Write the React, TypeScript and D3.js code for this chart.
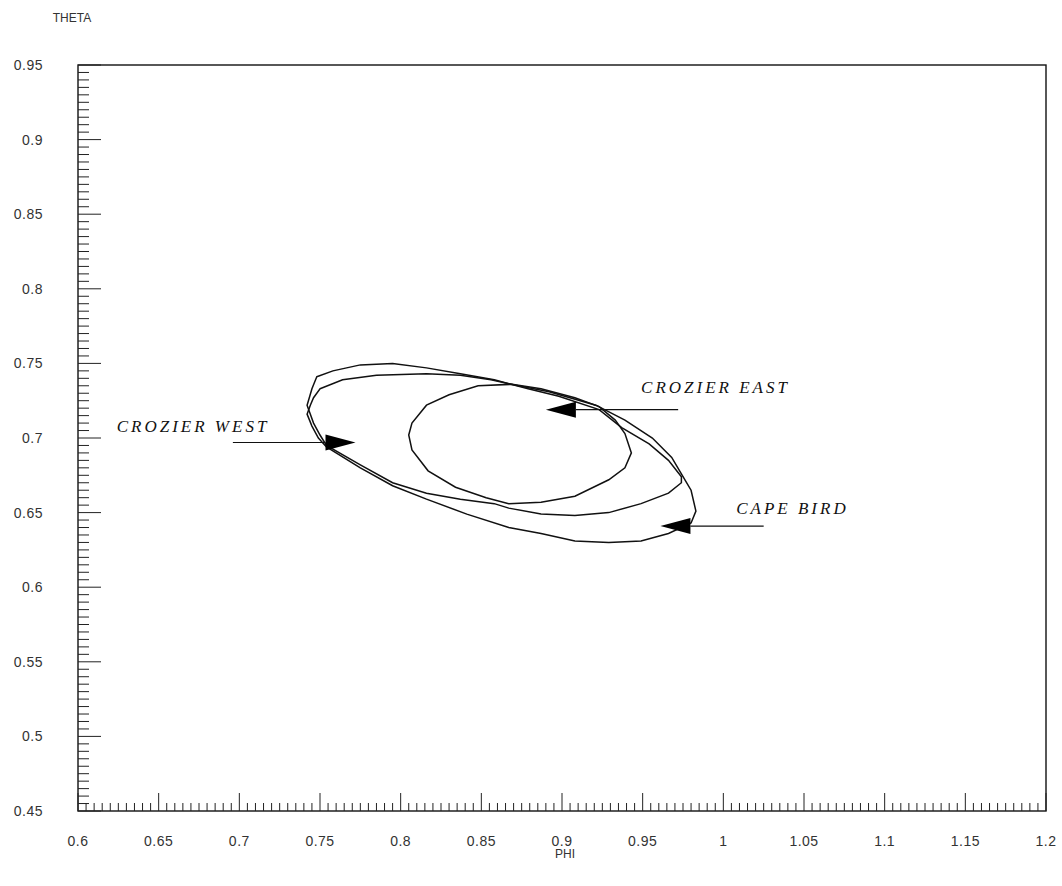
import React from "react";
import * as d3 from "d3";

// axis ticks
const phiTicks = [0.6, 0.65, 0.7, 0.75, 0.8, 0.85, 0.9, 0.95, 1, 1.05, 1.1, 1.15, 1.2];
const thetaTicks = [0.45, 0.5, 0.55, 0.6, 0.65, 0.7, 0.75, 0.8, 0.85, 0.9, 0.95];

// confidence contours, [phi, theta]
const crozierWest: [number, number][] = [
  [0.748, 0.741], [0.758, 0.745], [0.775, 0.749], [0.795, 0.75], [0.816, 0.747],
  [0.837, 0.743], [0.858, 0.739], [0.879, 0.733], [0.898, 0.728], [0.923, 0.719],
  [0.937, 0.707], [0.954, 0.696], [0.966, 0.685], [0.974, 0.674], [0.974, 0.67],
  [0.966, 0.663], [0.949, 0.656], [0.929, 0.65], [0.908, 0.648], [0.887, 0.649],
  [0.867, 0.653], [0.858, 0.656], [0.837, 0.659], [0.816, 0.663], [0.795, 0.67],
  [0.775, 0.682], [0.754, 0.695], [0.75, 0.702], [0.746, 0.71], [0.743, 0.719],
  [0.742, 0.722], [0.745, 0.733],
];

const crozierEast: [number, number][] = [
  [0.805, 0.702], [0.807, 0.71], [0.816, 0.722], [0.83, 0.729], [0.848, 0.735],
  [0.869, 0.736], [0.887, 0.733], [0.908, 0.727], [0.923, 0.721], [0.933, 0.712],
  [0.939, 0.703], [0.943, 0.69], [0.939, 0.68], [0.929, 0.672], [0.908, 0.661],
  [0.887, 0.657], [0.867, 0.656], [0.853, 0.66], [0.834, 0.667], [0.817, 0.678],
  [0.807, 0.692],
];

const capeBird: [number, number][] = [
  [0.75, 0.733], [0.764, 0.739], [0.785, 0.742], [0.816, 0.743], [0.837, 0.742],
  [0.856, 0.739], [0.873, 0.735], [0.892, 0.731], [0.921, 0.722], [0.939, 0.712],
  [0.956, 0.7], [0.968, 0.687], [0.974, 0.676], [0.98, 0.665], [0.983, 0.651],
  [0.98, 0.643], [0.966, 0.636], [0.949, 0.631], [0.929, 0.63], [0.908, 0.631],
  [0.887, 0.636], [0.867, 0.64], [0.841, 0.649], [0.816, 0.659], [0.795, 0.668],
  [0.775, 0.68], [0.754, 0.694], [0.749, 0.7], [0.745, 0.708], [0.742, 0.716],
  [0.744, 0.722], [0.746, 0.727],
];

// labels: text anchor [phi, theta], arrow tip [phi, theta], arrow tail phi
const labelNames = ["CROZIER WEST", "CROZIER EAST", "CAPE BIRD"];
const labelPos: [number, number][] = [[0.624, 0.704], [0.949, 0.73], [1.008, 0.649]];
const arrowTips: [number, number][] = [[0.772, 0.697], [0.89, 0.719], [0.961, 0.641]];
const arrowTails = [0.696, 0.972, 1.025];

const W = 1062;
const H = 886;

export default function App() {
  const x = d3.scaleLinear().domain([0.6, 1.2]).range([78, 1046]);
  const y = d3.scaleLinear().domain([0.45, 0.95]).range([811, 65]);

  const line = d3
    .line<[number, number]>()
    .x((d) => x(d[0]))
    .y((d) => y(d[1]))
    .curve(d3.curveLinearClosed);

  const xMinor = d3.range(0, 121).map((i) => 0.6 + i * 0.005);
  const yMinor = d3.range(0, 101).map((i) => 0.45 + i * 0.005);
  const isMajor = (i: number) => i % 10 === 0;

  const font = "'Liberation Sans', Arial, sans-serif";

  return (
    <div style={{ position: "absolute", left: 0, top: 0 }}>
      <svg width={W} height={H} style={{ display: "block", background: "#fff" }}>
        {/* frame */}
        <rect
          x={x(0.6)}
          y={y(0.95)}
          width={x(1.2) - x(0.6)}
          height={y(0.45) - y(0.95)}
          fill="none"
          stroke="#111"
          strokeWidth={1.4}
        />

        {/* x ticks */}
        {xMinor.map((v, i) => (
          <line
            key={"xm" + i}
            x1={x(v)}
            x2={x(v)}
            y1={y(0.45)}
            y2={y(0.45) - (isMajor(i) ? 18 : 8)}
            stroke="#222"
            strokeWidth={1}
          />
        ))}
        {/* y ticks */}
        {yMinor.map((v, i) => (
          <line
            key={"ym" + i}
            x1={x(0.6)}
            x2={x(0.6) + (isMajor(i) ? 23 : 11)}
            y1={y(v)}
            y2={y(v)}
            stroke="#222"
            strokeWidth={1}
          />
        ))}

        {phiTicks.map((t) => (
          <text
            key={"xl" + t}
            x={x(t)}
            y={y(0.45) + 35}
            textAnchor="middle"
            fontFamily={font}
            fontSize={14}
            letterSpacing={0.5}
            fill="#333"
          >
            {d3.format("")(t)}
          </text>
        ))}
        {thetaTicks.map((t) => (
          <text
            key={"yl" + t}
            x={43}
            y={y(t) + 5}
            textAnchor="end"
            fontFamily={font}
            fontSize={14}
            letterSpacing={0.5}
            fill="#333"
          >
            {d3.format("")(t)}
          </text>
        ))}

        <text x={72} y={22} textAnchor="middle" fontFamily={font} fontSize={12} fill="#333">
          THETA
        </text>
        <text x={565} y={858} textAnchor="middle" fontFamily={font} fontSize={12} fill="#333">
          PHI
        </text>

        {/* contours */}
        {[crozierWest, capeBird, crozierEast].map((c, i) => (
          <path key={"c" + i} d={line(c) || ""} fill="none" stroke="#111" strokeWidth={1.5} />
        ))}

        {/* annotations */}
        {labelNames.map((name, i) => {
          const tx = x(arrowTips[i][0]);
          const ty = y(arrowTips[i][1]);
          const tail = x(arrowTails[i]);
          const dir = tail < tx ? -1 : 1;
          const base = tx + dir * 30;
          return (
            <g key={name}>
              <line x1={tail} x2={base} y1={ty} y2={ty} stroke="#111" strokeWidth={1.2} />
              <polygon
                points={`${tx},${ty} ${base},${ty - 8} ${base},${ty + 8}`}
                fill="#000"
              />
              <text
                x={x(labelPos[i][0])}
                y={y(labelPos[i][1])}
                fontFamily="'Liberation Serif', 'Times New Roman', serif"
                fontStyle="italic"
                fontSize={17}
                letterSpacing={3}
                fill="#111"
              >
                {name}
              </text>
            </g>
          );
        })}
      </svg>
    </div>
  );
}
